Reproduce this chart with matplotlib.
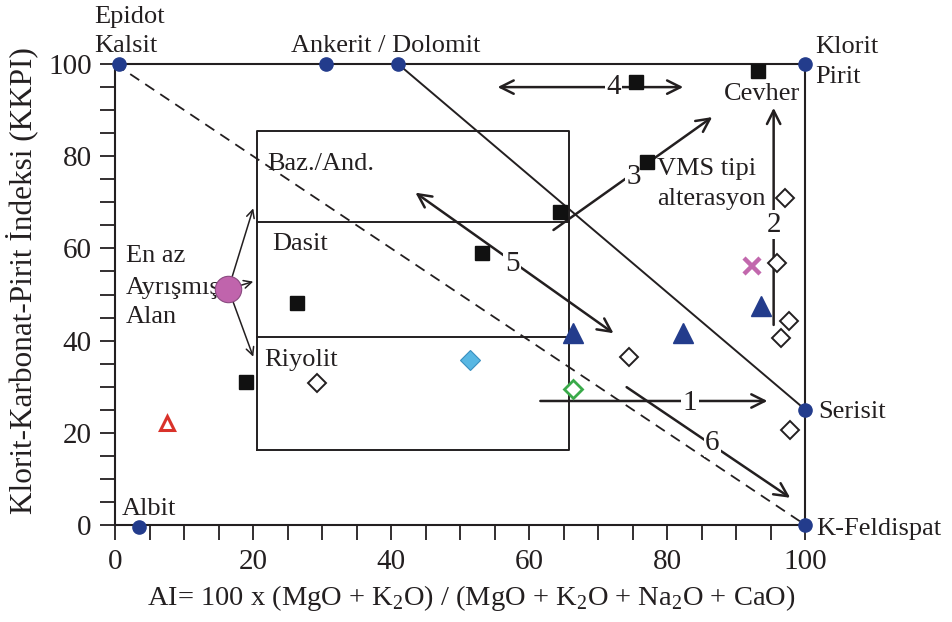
import matplotlib
matplotlib.use("Agg")
import matplotlib.pyplot as plt
from matplotlib.ticker import MultipleLocator

plt.rcParams['font.family'] = ['Liberation Serif', 'DejaVu Serif']
plt.rcParams['mathtext.fontset'] = 'custom'
plt.rcParams['mathtext.rm'] = 'Liberation Serif'

ink = '#231f20'
navy = '#233c8c'

# end-member minerals (AI, CCPI)
end_x = [0.5, 30.5, 41, 100, 100, 100, 3.5]
end_y = [100, 100, 100, 100, 25, 0, -0.5]

# altered samples by symbol
sq_x = [75.4, 93.1, 77.1, 64.5, 53.2, 26.3, 18.9]
sq_y = [96.1, 98.6, 78.7, 68.0, 58.9, 48.2, 31.0]
dia_x = [97.0, 95.9, 97.6, 96.5, 97.8, 74.5, 29.2]
dia_y = [70.9, 56.8, 44.3, 40.6, 20.6, 36.5, 30.9]
tri_x = [66.3, 82.3, 93.6]
tri_y = [41.6, 41.7, 47.5]
green_x, green_y = [66.4], [29.4]
cyan_x, cyan_y = [51.4], [35.9]
cross_x, cross_y = [92.2], [56.2]
red_x, red_y = [7.5], [22.1]
least_x, least_y = [16.4], [51.2]

# least altered box and rock-type dividers
box_x = [20.5, 65.8]
box_y = [16.3, 85.5]
divider_y = [65.8, 40.8]

# numbered alteration trends: start, end, label position
trend_labels = ['1', '2', '3', '4', '5', '6']
trend_start = [(61.6, 26.9), (95.4, 43.4), (63.5, 64.0), (55.4, 95.0), (72.2, 41.6), (74.1, 29.9)]
trend_end = [(94.5, 26.9), (95.4, 90.5), (86.5, 88.5), (82.3, 95.0), (43.5, 72.1), (97.8, 5.9)]
trend_text = [(83.3, 26.4), (95.4, 65.1), (75.1, 75.5), (72.2, 95.0), (57.5, 56.6), (86.5, 17.8)]
trend_both = [False, False, False, True, True, False]

least_targets = [(20.0, 68.7), (20.0, 52.8), (20.0, 36.5)]

fig = plt.figure(figsize=(9.52, 6.22), dpi=100)
ax = fig.add_axes([0.121, 0.156, 0.725, 0.741])
ax.set_xlim(0, 100)
ax.set_ylim(0, 100)

# reference lines
ax.plot([0, 100], [100, 0], ls=(0, (6, 4)), color=ink, lw=1.3, zorder=2)
ax.plot([41, 100], [100, 25], color=ink, lw=1.4, zorder=2)

# box
ax.plot([box_x[0], box_x[1], box_x[1], box_x[0], box_x[0]],
        [box_y[0], box_y[0], box_y[1], box_y[1], box_y[0]], color=ink, lw=1.4, zorder=2)
for d in divider_y:
    ax.plot(box_x, [d, d], color=ink, lw=1.4, zorder=2)

# trend arrows
for lab, s, e, t, both in zip(trend_labels, trend_start, trend_end, trend_text, trend_both):
    ax.annotate('', xy=e, xytext=s,
                arrowprops=dict(arrowstyle='<->' if both else '->', lw=1.8, color=ink,
                                mutation_scale=24, shrinkA=0, shrinkB=0), zorder=3)
    ax.text(t[0], t[1], lab, fontsize=21, color=ink, ha='center', va='center', zorder=4,
            bbox=dict(facecolor='white', edgecolor='none', pad=1.0))

for tx, ty in least_targets:
    ax.annotate('', xy=(tx, ty), xytext=(least_x[0], least_y[0]),
                arrowprops=dict(arrowstyle='->', lw=1.1, color=ink,
                                mutation_scale=14, shrinkA=0, shrinkB=0), zorder=3)

# samples
ax.plot(sq_x, sq_y, 's', ms=10.5, color='#111111', ls='none', zorder=5)
ax.plot(dia_x, dia_y, 'D', ms=9, mfc='white', mec=ink, mew=1.4, ls='none', zorder=5)
ax.plot(green_x, green_y, 'D', ms=9, mfc='white', mec='#3aaa4a', mew=2, ls='none', zorder=5)
ax.plot(cyan_x, cyan_y, 'D', ms=10, mfc='#58b7e3', mec='#3a8fbf', mew=0.8, ls='none', zorder=5)
ax.plot(tri_x, tri_y, '^', ms=14, color=navy, ls='none', zorder=5)
ax.plot(red_x, red_y, '^', ms=10, mfc='white', mec='#d9322a', mew=2.2, ls='none', zorder=5)
ax.plot(cross_x, cross_y, 'x', ms=12, mec='#c268ad', mew=3.2, ls='none', zorder=5)
ax.plot(least_x, least_y, 'o', ms=19, mfc='#c064ac', mec='#8a4a80', mew=0.8, ls='none', zorder=6)
ax.plot(end_x, end_y, 'o', ms=9.5, color=navy, ls='none', zorder=6, clip_on=False)

# text labels
lab_kw = dict(fontsize=19, color=ink, va='center', ha='left', clip_on=False, zorder=4)
ax.text(-3.0, 110.3, 'Epidot', **lab_kw)
ax.text(-3.0, 104.0, 'Kalsit', **lab_kw)
ax.text(25.5, 104.0, 'Ankerit / Dolomit', **lab_kw)
ax.text(101.4, 103.7, 'Klorit', **lab_kw)
ax.text(101.4, 97.2, 'Pirit', **lab_kw)
ax.text(88.2, 93.5, 'Cevher', **lab_kw)
ax.text(101.8, 24.6, 'Serisit', **lab_kw)
ax.text(101.5, -0.8, 'K-Feldispat', **lab_kw)
ax.text(1.0, 3.4, 'Albit', **lab_kw)
ax.text(22.0, 78.3, 'Baz./And.', **lab_kw)
ax.text(22.8, 61.0, 'Dasit', **lab_kw)
ax.text(21.6, 35.9, 'Riyolit', **lab_kw)
ax.text(1.5, 58.3, 'En az', **lab_kw)
ax.text(1.5, 51.5, 'Ayrışmış', **lab_kw)
ax.text(1.5, 45.2, 'Alan', **lab_kw)
ax.text(78.5, 77.2, 'VMS tipi', **lab_kw)
ax.text(78.5, 70.7, 'alterasyon', **lab_kw)

# axes styling
for sp in ax.spines.values():
    sp.set_linewidth(1.5)
    sp.set_color(ink)
ax.xaxis.set_major_locator(MultipleLocator(20))
ax.xaxis.set_minor_locator(MultipleLocator(5))
ax.yaxis.set_major_locator(MultipleLocator(20))
ax.yaxis.set_minor_locator(MultipleLocator(5))
ax.tick_params(which='both', direction='out', length=11, width=1.3, color=ink,
               top=False, right=False)
ax.tick_params(which='major', labelsize=21, labelcolor=ink, pad=6)

ax.set_xlabel('AI= 100 x (MgO + K$_2$O) / (MgO + K$_2$O + Na$_2$O + CaO)',
              fontsize=20.5, color=ink)
ax.set_ylabel('Klorit-Karbonat-Pirit İndeksi (KKPI)', fontsize=22.5, color=ink)
ax.xaxis.set_label_coords(0.516, -0.125)
ax.yaxis.set_label_coords(-0.112, 0.53)

fig.savefig('out.png', dpi=100)
